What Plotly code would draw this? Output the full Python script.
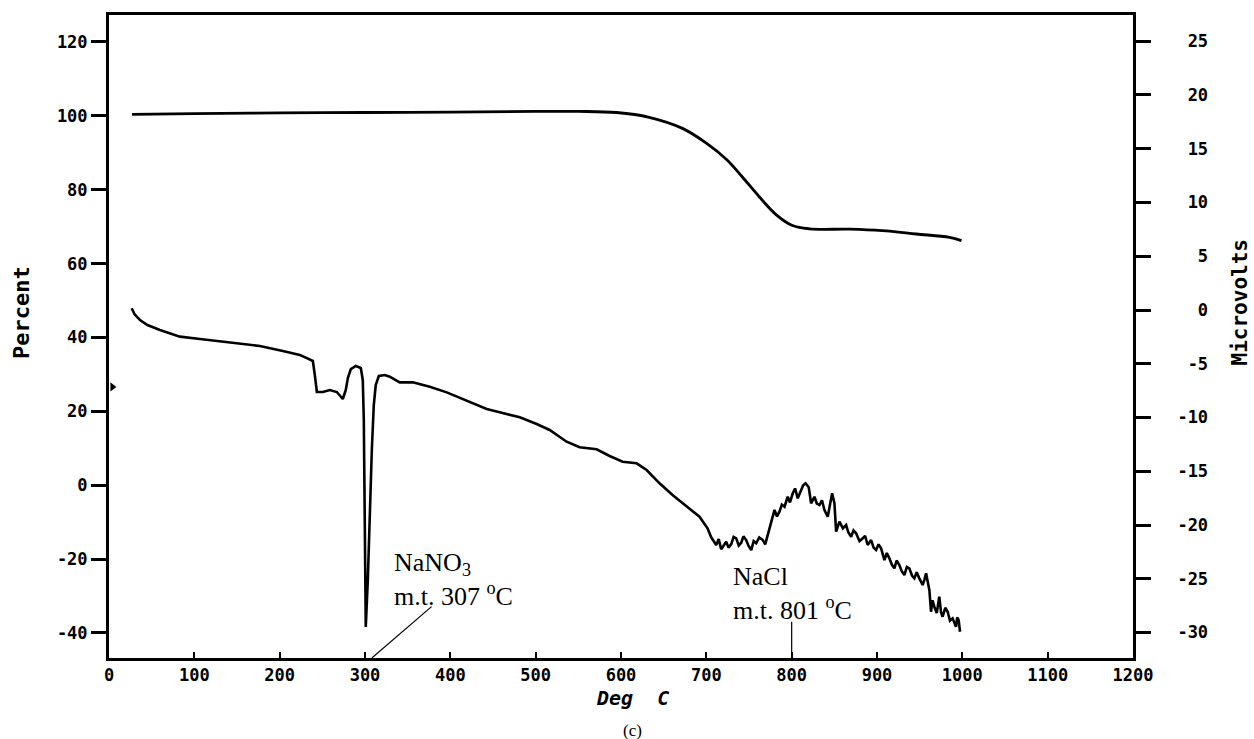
import plotly.graph_objects as go

# ---------------- data ----------------
# TGA (left axis, Percent)
tga_temp = [27, 100, 200, 300, 400, 500, 550, 595, 633, 672, 700, 724, 742, 762, 782, 801, 821, 868, 906, 946, 985, 999]
tga_pct = [100.4, 100.6, 100.8, 100.9, 101.0, 101.2, 101.2, 100.9, 99.6, 96.6, 92.6, 88.1, 83.5, 78.1, 73.2, 70.3,
           69.4, 69.3, 68.9, 68.0, 67.1, 66.2]

# DTA (right axis, Microvolts)
dta_temp = [26.6, 30, 36.3, 45, 59.7, 83.1, 106.6, 145.2, 176.8, 203.7, 223.7, 231.9, 238.9, 241.2, 243.6, 250.6,
            258.8, 267.0, 274.0, 277.5, 279.9, 283.4, 289.2, 295.1, 297.4, 298.6, 299.8, 300.9, 303.3, 305.6,
            308.0, 310.3, 312.6, 316.2, 323.2, 329.0, 340.7, 356.0, 375.9, 395.8, 419.2, 442.6, 457.8, 481.3,
            501.2, 516.4, 536.3, 551.5, 571.4, 586.7, 601.9, 618.3, 630.0, 645.2, 660.4, 676.8, 692.0, 701.4,
            705.7, 711.6, 714.5, 717.4, 720.0, 723.3, 726.0, 729.2, 732.0, 735.0, 738.0, 740.9, 743.5, 746.7,
            749.5, 752.6, 755.5, 758.4, 762.0, 766.2, 769.0, 772.0, 776.0, 779.9, 782.8, 785.7, 788.5, 791.6,
            795.4, 798.0, 801.3, 804.0, 807.1, 811.1, 813.5, 816.2, 820.0, 822.8, 826.7, 829.5, 832.6, 835.5,
            838.4, 842.3, 847.4, 850.1, 852.1, 856.0, 860.0, 863.8, 866.5, 869.7, 872.5, 875.5, 879.5, 883.3,
            886.0, 889.1, 893.1, 896.0, 898.9, 901.8, 904.8, 908.7, 911.5, 914.5, 917.5, 920.4, 923.0, 926.2,
            929.0, 932.1, 935.0, 937.9, 941.0, 943.8, 946.5, 949.6, 953.5, 955.5, 957.5, 959.5, 961.4, 963.3,
            965.0, 967.2, 970.0, 973.0, 975.0, 976.9, 980.0, 982.8, 985.5, 988.6, 990.5, 992.6, 994.0, 995.7,
            997.3]
dta_uv = [0.16, -0.4, -0.93, -1.4, -1.86, -2.48, -2.70, -3.07, -3.35, -3.81, -4.19, -4.47, -4.74, -6.05, -7.63,
          -7.63, -7.44, -7.63, -8.28, -7.44, -6.33, -5.49, -5.21, -5.40, -6.51, -10.23, -19.53, -29.49, -25.12,
          -18.60, -13.02, -8.84, -6.98, -6.14, -6.05, -6.20, -6.73, -6.73, -7.13, -7.66, -8.44, -9.21, -9.52,
          -9.98, -10.60, -11.16, -12.25, -12.77, -12.96, -13.58, -14.11, -14.26, -14.88, -16.12, -17.21, -18.30,
          -19.23, -20.31,
          -21.14, -21.86, -21.30, -22.26, -21.90, -21.55, -22.10, -21.77, -21.10, -21.24, -21.90, -21.65, -21.05,
          -21.40, -21.95, -22.33, -21.50, -21.70, -21.15, -21.40, -21.80, -20.93, -19.69, -18.60, -19.20, -18.76,
          -18.10, -18.30, -17.37, -17.90, -17.05, -16.60, -17.52, -16.74, -16.30, -16.12, -16.49, -17.98, -17.37,
          -18.00, -18.14, -17.70, -18.60, -19.23, -17.05, -17.98, -20.62, -19.69, -20.30, -20.00, -20.70, -21.09,
          -20.50, -20.77, -21.50, -21.24, -21.00, -21.86, -21.40, -22.10, -22.33, -21.80, -22.17, -23.26, -22.60,
          -23.10, -23.70, -24.03, -23.30, -23.72, -24.30, -24.65, -23.90, -24.03, -24.70, -24.96, -24.40, -24.96,
          -25.58, -25.10, -24.49, -25.30, -26.05, -28.07, -27.00, -27.60, -28.20, -26.67, -28.10, -28.53, -27.70,
          -28.07, -28.90, -28.68, -29.10, -29.46, -28.60, -28.84, -29.93]

# small mark on the left axis
mark_temp = [4]
mark_pct = [26.6]

x_ticks = [0, 100, 200, 300, 400, 500, 600, 700, 800, 900, 1000, 1100, 1200]
x_ticktext = [str(v) for v in x_ticks]
y_ticks = [-40, -20, 0, 20, 40, 60, 80, 100, 120]
y_ticktext = ["-40", "-20", "0", "20", "40", "60", "80", "100", "120"]
y2_ticks = [-30, -25, -20, -15, -10, -5, 0, 5, 10, 15, 20, 25]
y2_ticktext = ["-30", "-25", "-20", "-15", "-10", "\u00a0-5", "\u00a0\u00a00", "\u00a0\u00a05",
               "\u00a010", "\u00a015", "\u00a020", "\u00a025"]

# annotation leader lines (data units)
nano3_line_x = [308, 378]
nano3_line_y = [-46.8, -32.9]
nacl_line_x = [800, 800]
nacl_line_y = [-46.8, -37.0]

BLACK = "#000000"
MONO = "DejaVu Sans Mono"
SERIF = "Liberation Serif"

fig = go.Figure()
fig.add_trace(go.Scatter(x=tga_temp, y=tga_pct, mode="lines", line=dict(color=BLACK, width=2.8),
                         line_shape="spline", showlegend=False, yaxis="y"))
fig.add_trace(go.Scatter(x=dta_temp, y=dta_uv, mode="lines", line=dict(color=BLACK, width=2.6),
                         showlegend=False, yaxis="y2"))
fig.add_trace(go.Scatter(x=mark_temp, y=mark_pct, mode="markers",
                         marker=dict(symbol="triangle-right", size=8, color=BLACK),
                         showlegend=False, yaxis="y", cliponaxis=False))

fig.add_trace(go.Scatter(x=nano3_line_x, y=nano3_line_y, mode="lines", line=dict(color=BLACK, width=1.2),
                         showlegend=False, yaxis="y", cliponaxis=False))
fig.add_trace(go.Scatter(x=nacl_line_x, y=nacl_line_y, mode="lines", line=dict(color=BLACK, width=1.2),
                         showlegend=False, yaxis="y", cliponaxis=False))

tickfont = dict(family=MONO, size=17, color=BLACK, weight="bold")

fig.update_layout(
    width=1254, height=739,
    margin=dict(l=109, r=121, t=15, b=81),
    paper_bgcolor="white", plot_bgcolor="white",
    xaxis=dict(range=[0, 1200], tickvals=x_ticks, ticktext=x_ticktext, ticks="inside", ticklen=6,
               tickwidth=2, tickcolor=BLACK, showline=True, linewidth=3, linecolor=BLACK, mirror=True,
               showgrid=False, zeroline=False, tickfont=tickfont, ticklabelstandoff=0),
    yaxis=dict(range=[-46.8, 127.3], tickvals=y_ticks, ticktext=y_ticktext, ticks="outside", ticklen=15,
               tickwidth=3, tickcolor=BLACK, showline=True, linewidth=3, linecolor=BLACK,
               showgrid=False, zeroline=False, tickfont=tickfont, ticklabelstandoff=0),
    yaxis2=dict(range=[-32.37, 27.44], tickvals=y2_ticks, ticktext=y2_ticktext, ticks="outside", ticklen=15,
                tickwidth=3, tickcolor=BLACK, showline=True, linewidth=3, linecolor=BLACK,
                overlaying="y", side="right", anchor="x",
                showgrid=False, zeroline=False, tickfont=tickfont, ticklabelstandoff=23),
    annotations=[
        dict(text="NaNO<sub>3</sub><br>m.t. 307 <sup>o</sup>C", x=332, y=-16.5, xref="x", yref="y",
             xanchor="left", yanchor="top", align="left", showarrow=False,
             font=dict(family=SERIF, size=26, color=BLACK)),
        dict(text="NaCl<br>m.t. 801 <sup>o</sup>C", x=729, y=-20.3, xref="x", yref="y",
             xanchor="left", yanchor="top", align="left", showarrow=False,
             font=dict(family=SERIF, size=26, color=BLACK)),
        dict(text="Deg\u00a0\u00a0C", x=0.511, y=-0.062, xref="paper", yref="paper",
             xanchor="center", yanchor="middle", showarrow=False,
             font=dict(family=MONO, size=20, color=BLACK, weight="bold", style="italic")),
        dict(text="(c)", x=0.511, y=-0.112, xref="paper", yref="paper",
             xanchor="center", yanchor="middle", showarrow=False,
             font=dict(family=SERIF, size=17, color=BLACK)),
        dict(text="Percent", x=-0.0859, y=0.5365, xref="paper", yref="paper", textangle=-90,
             xanchor="center", yanchor="middle", showarrow=False,
             font=dict(family=MONO, size=22, color=BLACK, weight="bold")),
        dict(text="Microvolts", x=1.104, y=0.5537, xref="paper", yref="paper", textangle=-90,
             xanchor="center", yanchor="middle", showarrow=False,
             font=dict(family=MONO, size=21, color=BLACK, weight="bold")),
    ],
)

fig.write_html("out.html")
